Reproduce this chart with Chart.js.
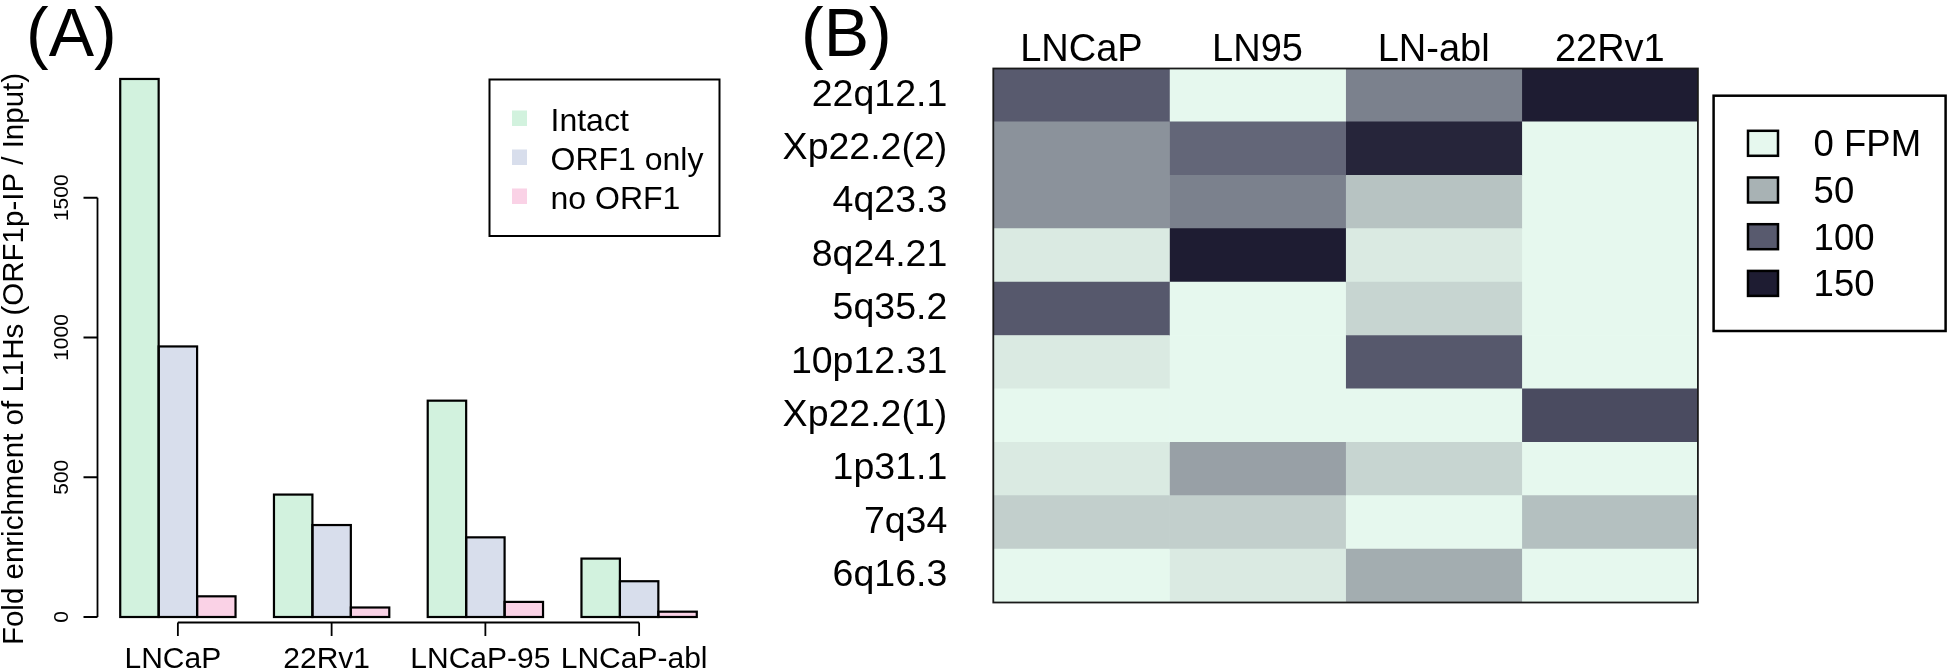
<!DOCTYPE html>
<html>
<head>
<meta charset="utf-8">
<title>L1Hs ORF1p-IP enrichment</title>
<script src="https://cdn.jsdelivr.net/npm/chart.js@4.4.1/dist/chart.umd.min.js"></script>
<style>
  html, body { margin: 0; padding: 0; background: #fff; }
  #wrap { position: relative; width: 1947px; height: 671px; overflow: hidden; }
  #barChart { position: absolute; left: 0; top: 0; }
  #heatChart { position: absolute; left: 780px; top: 0; }
</style>
</head>
<body>
<div id="wrap">
  <canvas id="barChart" width="780" height="671"></canvas>
  <canvas id="heatChart" width="1167" height="671"></canvas>
</div>
<script>
// panel A - fold enrichment per cell line
var cellLines = ['LNCaP', '22Rv1', 'LNCaP-95', 'LNCaP-abl'];
var intact = [1925, 438, 774, 209];
var orf1Only = [968, 329, 285, 128];
var noOrf1 = [74, 34, 54, 19];
var yTicks = [0, 500, 1000, 1500];
var yTitle = 'Fold enrichment of L1Hs (ORF1p-IP / Input)';

// panel B - FPM per locus (rows) and cell line (columns)
var loci = ['22q12.1', 'Xp22.2(2)', '4q23.3', '8q24.21', '5q35.2', '10p12.31', 'Xp22.2(1)', '1p31.1', '7q34', '6q16.3'];
var heatCols = ['LNCaP', 'LN95', 'LN-abl', '22Rv1'];
var fpmLNCaP = [100, 68, 68, 10, 102, 10, 0, 10, 29, 0];
var fpmLN95 = [0, 93, 78, 158, 0, 0, 0, 60, 29, 10];
var fpmLNabl = [78, 143, 38, 10, 25, 102, 0, 25, 0, 53];
var fpm22Rv1 = [155, 0, 0, 0, 0, 0, 112, 0, 40, 0];
var fpmLegend = [0, 50, 100, 150];
var fpmLegendLabels = ['0 FPM', '50', '100', '150'];

var FONT = '"Liberation Sans", Arial, Helvetica, sans-serif';
Chart.defaults.font.family = FONT;
Chart.defaults.color = '#000';

// mint -> grey -> navy ramp, one stop per legend value
var rampStops = [[230, 248, 238], [168, 178, 180], [88, 90, 110], [30, 28, 50]];
function fpmColor(v) {
    var step = fpmLegend[1] - fpmLegend[0];
    var t = Math.max(0, Math.min(v, fpmLegend[fpmLegend.length - 1])) / step;
    var i = Math.min(Math.floor(t), rampStops.length - 2);
    var f = t - i;
    var a = rampStops[i], b = rampStops[i + 1];
    var c = [0, 1, 2].map(function(k) { return Math.round(a[k] + (b[k] - a[k]) * f); });
    return 'rgb(' + c.join(',') + ')';
}

function rotText(ctx, txt, x, y) {
    ctx.save();
    ctx.translate(x, y);
    ctx.rotate(-Math.PI / 2);
    ctx.fillText(txt, 0, 0);
    ctx.restore();
}

// R style outlines, axes, legend and panel letter for the bar plot
var rStyleA = {
    id: 'rStyleA',
    afterDatasetsDraw: function(chart) {
        // outline every bar centred on its edges, like R's rect()
        var ctx = chart.ctx;
        ctx.save();
        ctx.strokeStyle = '#000';
        ctx.lineWidth = 2.2;
        chart.data.datasets.forEach(function(ds, i) {
            chart.getDatasetMeta(i).data.forEach(function(bar) {
                var p = bar.getProps(['x', 'y', 'base', 'width'], true);
                ctx.strokeRect(p.x - p.width / 2, p.y, p.width, p.base - p.y);
            });
        });
        ctx.restore();
    },
    afterDraw: function(chart) {
        var ctx = chart.ctx;
        var xs = chart.scales.x, ys = chart.scales.y, area = chart.chartArea;
        var y0 = ys.getPixelForValue(0);
        ctx.save();
        ctx.strokeStyle = '#000';
        ctx.fillStyle = '#000';
        ctx.lineWidth = 1.8;

        // y axis
        var ax = area.left - 3.5;
        ctx.beginPath();
        ctx.moveTo(ax, ys.getPixelForValue(yTicks[0]));
        ctx.lineTo(ax, ys.getPixelForValue(yTicks[yTicks.length - 1]));
        yTicks.forEach(function(v) {
            var y = ys.getPixelForValue(v);
            ctx.moveTo(ax, y);
            ctx.lineTo(ax - 14, y);
        });
        ctx.stroke();
        ctx.font = '21px ' + FONT;
        ctx.textAlign = 'center';
        ctx.textBaseline = 'alphabetic';
        yTicks.forEach(function(v) {
            rotText(ctx, String(v), ax - 30, ys.getPixelForValue(v));
        });
        ctx.font = '29.5px ' + FONT;
        rotText(ctx, yTitle, 22.5, 359);

        // x axis from first to last group
        var xa = y0 + 5.5;
        ctx.beginPath();
        ctx.moveTo(xs.getPixelForValue(0), xa);
        ctx.lineTo(xs.getPixelForValue(cellLines.length - 1), xa);
        cellLines.forEach(function(n, i) {
            var x = xs.getPixelForValue(i);
            ctx.moveTo(x, xa);
            ctx.lineTo(x, xa + 13.5);
        });
        ctx.stroke();
        ctx.font = '30px ' + FONT;
        cellLines.forEach(function(n, i) {
            ctx.fillText(n, xs.getPixelForValue(i) - 5, 668);
        });

        // legend (topright)
        ctx.lineWidth = 2;
        ctx.strokeRect(489.5, 79.5, 230, 156.5);
        ctx.font = '32px ' + FONT;
        ctx.textAlign = 'left';
        chart.data.datasets.forEach(function(ds, i) {
            ctx.fillStyle = ds.backgroundColor;
            ctx.fillRect(512, 110.5 + 39 * i, 15, 15.5);
            ctx.fillStyle = '#000';
            ctx.fillText(ds.label, 550.5, 130.5 + 39 * i);
        });

        ctx.font = '68px ' + FONT;
        ctx.fillText('(A)', 26, 56);
        ctx.restore();
    }
};

var barCtx = document.getElementById('barChart').getContext('2d');
var barChart = new Chart(barCtx, {
    type: 'bar',
    data: {
        labels: cellLines,
        datasets: [
            {label: 'Intact', data: intact, backgroundColor: 'rgb(210,242,222)'},
            {label: 'ORF1 only', data: orf1Only, backgroundColor: 'rgb(216,222,236)'},
            {label: 'no ORF1', data: noOrf1, backgroundColor: 'rgb(250,210,230)'}
        ]
    },
    options: {
        responsive: false,
        animation: false,
        devicePixelRatio: 1,
        layout: {padding: {left: 101, right: 64, top: 58, bottom: 54}},
        datasets: {bar: {categoryPercentage: 0.75, barPercentage: 1, borderWidth: 0}},
        plugins: {legend: {display: false}, tooltip: {enabled: false}},
        scales: {
            x: {display: false},
            y: {display: false, min: 0, max: 2000}
        }
    },
    plugins: [rStyleA]
});

// frame, colour key and panel letter for the heatmap
var rStyleB = {
    id: 'rStyleB',
    afterDraw: function(chart) {
        var ctx = chart.ctx, area = chart.chartArea;
        ctx.save();
        ctx.strokeStyle = '#1a1a1a';
        ctx.lineWidth = 1.8;
        ctx.strokeRect(area.left, area.top, area.right - area.left, area.bottom - area.top);

        ctx.strokeStyle = '#000';
        ctx.lineWidth = 2.5;
        ctx.strokeRect(933.6, 95.7, 232, 235.3);
        ctx.font = '36.5px ' + FONT;
        ctx.textAlign = 'left';
        ctx.textBaseline = 'alphabetic';
        fpmLegend.forEach(function(v, i) {
            var cy = 143.3 + 46.7 * i;
            ctx.fillStyle = fpmColor(v);
            ctx.fillRect(968, cy - 12.5, 30, 25);
            ctx.lineWidth = 2.5;
            ctx.strokeRect(968, cy - 12.5, 30, 25);
            ctx.fillStyle = '#000';
            ctx.fillText(fpmLegendLabels[i], 1033.6, cy + 13);
        });

        ctx.font = '68px ' + FONT;
        ctx.fillText('(B)', 21, 56);
        ctx.restore();
    }
};

var heatValues = [fpmLNCaP, fpmLN95, fpmLNabl, fpm22Rv1];
var heatCtx = document.getElementById('heatChart').getContext('2d');
var heatChart = new Chart(heatCtx, {
    type: 'bar',
    data: {
        labels: loci,
        datasets: heatCols.map(function(name, c) {
            return {
                label: name,
                data: loci.map(function() { return [c, c + 1]; }),
                backgroundColor: heatValues[c].map(fpmColor),
                borderWidth: 0
            };
        })
    },
    options: {
        indexAxis: 'y',
        responsive: false,
        animation: false,
        devicePixelRatio: 1,
        layout: {padding: {left: 0, top: 0, right: 249.1, bottom: 18.3}},
        datasets: {bar: {grouped: false, barPercentage: 1, categoryPercentage: 1}},
        plugins: {legend: {display: false}, tooltip: {enabled: false}},
        scales: {
            y: {
                type: 'category',
                offset: true,
                grid: {display: false, drawTicks: false},
                border: {display: false},
                ticks: {font: {size: 37.5}, padding: 46, autoSkip: false},
                afterFit: function(s) { s.width = 213.3; }
            },
            x: {
                type: 'linear',
                position: 'top',
                min: 0,
                max: heatCols.length,
                grid: {display: false, drawTicks: false},
                border: {display: false},
                afterBuildTicks: function(s) {
                    s.ticks = heatCols.map(function(n, i) { return {value: i + 0.5}; });
                },
                ticks: {
                    callback: function(v) { return heatCols[Math.floor(v)]; },
                    font: {size: 38, lineHeight: 1},
                    padding: -1,
                    maxRotation: 0,
                    autoSkip: false
                },
                afterFit: function(s) { s.height = 65.7; }
            }
        }
    },
    plugins: [rStyleB]
});
</script>
</body>
</html>
